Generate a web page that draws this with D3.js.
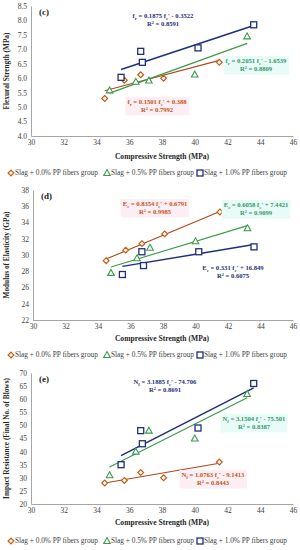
<!DOCTYPE html>
<html>
<head>
<meta charset="utf-8">
<script src="https://cdn.jsdelivr.net/npm/d3@7"></script>
<style>
  body { margin: 0; background: #fff; }
  svg { font-family: "Liberation Serif", "Times New Roman", serif; }
</style>
</head>
<body>
<div id="chart"></div>
<script>
// groups and x values (compressive strength, MPa)
const groups = ["Slag + 0.0% PP fibers group", "Slag + 0.5% PP fibers group", "Slag + 1.0% PP fibers group"];
const fc00 = [34.5, 35.7, 36.7, 38.1, 41.5];
const fc05 = [34.8, 36.4, 37.2, 40.0, 43.2];
const fc10 = [35.5, 36.7, 36.8, 40.2, 43.6];
const xTicks = [30, 32, 34, 36, 38, 40, 42, 44, 46];

// (c) flexural strength
const flex00 = [5.3, 5.93, 6.12, 6.0, 6.55];
const flex05 = [5.58, 5.88, 5.92, 6.13, 7.45];
const flex10 = [6.03, 6.93, 6.55, 7.05, 7.85];
const flexFit = [[0.1501, 0.388], [0.2051, -1.6539], [0.1875, -0.3522]];
const flexR2 = ["0.7992", "0.8809", "0.8591"];

// (d) modulus of elasticity
const mod00 = [29.3, 30.6, 31.4, 32.6, 35.3];
const mod05 = [27.8, 29.6, 30.9, 31.7, 33.3];
const mod10 = [27.6, 30.4, 28.7, 30.4, 31.0];
const modFit = [[0.8354, 0.6791], [0.6058, 7.4421], [0.331, 16.849]];
const modR2 = ["0.9985", "0.9099", "0.6075"];

// (e) impact resistance
const imp00 = [28, 29, 32, 30, 36];
const imp05 = [31, 40, 48, 45, 62];
const imp10 = [35, 48, 43, 49, 66];
const impFit = [[1.0763, -9.1413], [3.1504, -75.501], [3.1885, -74.706]];
const impR2 = ["0.8443", "0.8387", "0.8691"];

const colors = ["#c55a11", "#3a9a4a", "#1f2f78"];
const lineColors = ["#b5451b", "#3a9a4a", "#1f2f78"];
const textColors = ["#c0561a", "#2f9a6a", "#1f2f78"];
const bgColors = ["#fdeef3", "#e8fbf6", "none"];
const shapes = ["diamond", "triangle", "square"];
const xs = [fc00, fc05, fc10];

const W = 300, H = 550;
const svg = d3.select("#chart").append("svg")
  .attr("width", W).attr("height", H);

const panels = [
  { letter: "(c)", top: 6, bottom: 136, left: 31, dom: [4, 8.5], step: 0.5, fmt: d3.format(".1f"),
    title: "Flexural Strength (MPa)", ys: [flex00, flex05, flex10], fit: flexFit, r2: flexR2,
    sym: ["f", "r"], xLabel: 148, xTitle: 156, legend: 173,
    labels: [[157, 104], [256, 63], [163, 18]] },
  { letter: "(d)", top: 190, bottom: 320, left: 33, dom: [22, 38], step: 2, fmt: d3.format("d"),
    title: "Modulus of Elasticity (GPa)", ys: [mod00, mod05, mod10], fit: modFit, r2: modR2,
    sym: ["E", "c"], xLabel: 328, xTitle: 338, legend: 355,
    labels: [[155, 206], [256, 207], [233, 270]] },
  { letter: "(e)", top: 373, bottom: 504, left: 31, dom: [20, 70], step: 5, fmt: d3.format("d"),
    title: "Impact Resistance (Final No. of Blows)", ys: [imp00, imp05, imp10], fit: impFit, r2: impR2,
    sym: ["N", "f"], xLabel: 512, xTitle: 522, legend: 541,
    labels: [[213, 477], [254, 421], [165, 384]] }
];

function marker(g, shape, x, y, color) {
  if (shape === "diamond") {
    g.append("path").attr("d", `M${x},${y - 2.9}L${x + 2.9},${y}L${x},${y + 2.9}L${x - 2.9},${y}Z`)
      .attr("fill", "#fff").attr("stroke", color).attr("stroke-width", 1.2);
  } else if (shape === "triangle") {
    g.append("path").attr("d", `M${x},${y - 3.4}L${x + 3.3},${y + 2.5}L${x - 3.3},${y + 2.5}Z`)
      .attr("fill", "#fff").attr("stroke", color).attr("stroke-width", 1.1);
  } else {
    g.append("rect").attr("x", x - 3).attr("y", y - 3).attr("width", 6).attr("height", 6)
      .attr("fill", "#fff").attr("stroke", color).attr("stroke-width", 1.3);
  }
}

function equation(g, p, i, cx, cy) {
  const [a, b] = p.fit[i];
  const sign = b < 0 ? " - " : " + ";
  const col = textColors[i];
  const lab = g.append("g");
  const t = lab.append("text").attr("x", cx).attr("y", cy)
    .attr("text-anchor", "middle").attr("font-size", 6.6).attr("font-weight", "bold").attr("fill", col);
  t.append("tspan").text(p.sym[0]);
  t.append("tspan").attr("font-size", 4.6).attr("dy", 1.5).text(p.sym[1]);
  t.append("tspan").attr("dy", -1.5).text(" = " + a + " f");
  t.append("tspan").attr("font-size", 4.6).attr("dy", 1.5).text("c");
  t.append("tspan").attr("dy", -1.5).text("'" + sign + Math.abs(b));
  const t2 = lab.append("text").attr("x", cx).attr("y", cy + 8)
    .attr("text-anchor", "middle").attr("font-size", 6.6).attr("font-weight", "bold").attr("fill", col);
  t2.append("tspan").text("R");
  t2.append("tspan").attr("font-size", 4.4).attr("dy", -2.5).text("2");
  t2.append("tspan").attr("dy", 2.5).text(" = " + p.r2[i]);
  if (bgColors[i] !== "none") {
    const b1 = t.node().getBBox();
    lab.insert("rect", "text").attr("x", b1.x - 2).attr("y", b1.y - 1)
      .attr("width", b1.width + 4).attr("height", b1.height + 10).attr("fill", bgColors[i]);
  }
}

panels.forEach(p => {
  const g = svg.append("g");
  const x = d3.scaleLinear().domain([30, 46]).range([p.left, 293]);
  const y = d3.scaleLinear().domain(p.dom).range([p.bottom, p.top]);
  const yTicks = d3.range(p.dom[0], p.dom[1] + p.step / 2, p.step);

  // y axis
  const ya = g.append("g").attr("transform", `translate(${p.left},0)`)
    .call(d3.axisLeft(y).tickValues(yTicks).tickFormat(p.fmt).tickSize(0).tickPadding(4));
  ya.select(".domain").attr("stroke", "#a6a6a6");
  ya.selectAll("text").attr("font-size", 7.5).attr("fill", "#404040")
    .attr("font-family", "Liberation Serif, serif");

  // x axis
  const xa = g.append("g").attr("transform", `translate(0,${p.bottom})`)
    .call(d3.axisBottom(x).tickValues(xTicks).tickSize(0).tickPadding(4));
  xa.select(".domain").attr("stroke", "#a6a6a6");
  xa.selectAll("text").attr("font-size", 7.5).attr("fill", "#404040")
    .attr("font-family", "Liberation Serif, serif");

  g.append("text").attr("x", 162).attr("y", p.xTitle + 3)
    .attr("text-anchor", "middle").attr("font-size", 7.6).attr("font-weight", "bold")
    .attr("fill", "#262626").text("Compressive Strength (MPa)");

  g.append("text")
    .attr("transform", `translate(9,${(p.top + p.bottom) / 2}) rotate(-90)`)
    .attr("text-anchor", "middle").attr("font-size", 7.3).attr("font-weight", "bold")
    .attr("fill", "#262626").text(p.title);

  g.append("text").attr("x", p.left + 8).attr("y", p.top + 9)
    .attr("font-size", 9).attr("font-weight", "bold").attr("fill", "#1a1a1a").text(p.letter);

  // trend lines
  p.fit.forEach((f, i) => {
    const lo = d3.min(xs[i]), hi = d3.max(xs[i]);
    g.append("line")
      .attr("x1", x(lo)).attr("y1", y(f[0] * lo + f[1]))
      .attr("x2", x(hi)).attr("y2", y(f[0] * hi + f[1]))
      .attr("stroke", lineColors[i]).attr("stroke-width", i === 2 ? 1.5 : 1.1);
  });

  // points
  p.ys.forEach((vals, i) => {
    vals.forEach((v, j) => marker(g, shapes[i], x(xs[i][j]), y(v), colors[i]));
  });

  // equations
  p.labels.forEach((pos, i) => equation(g, p, i, pos[0], pos[1]));

  // legend
  const lg = g.append("g").attr("transform", `translate(0,${p.legend})`);
  const lx = [11, 107, 200];
  groups.forEach((name, i) => {
    marker(lg, shapes[i], lx[i], 0, colors[i]);
    lg.append("text").attr("x", lx[i] + 4).attr("y", 2.4)
      .attr("font-size", 7.3).attr("fill", "#404040").text(name);
  });
});
</script>
</body>
</html>
